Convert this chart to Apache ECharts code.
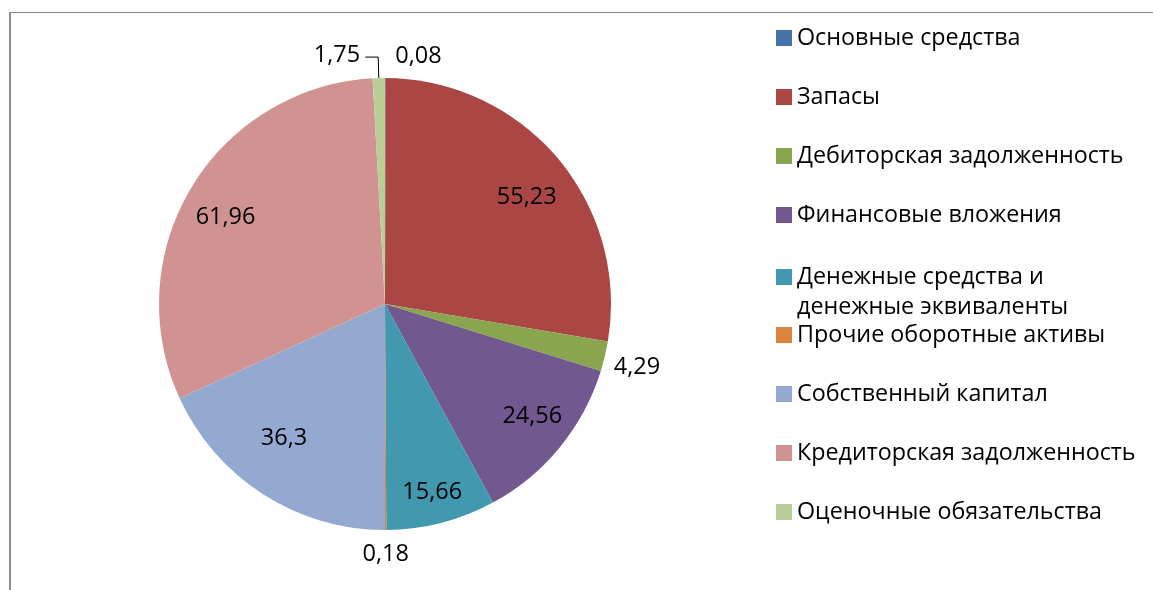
<!DOCTYPE html>
<html>
<head>
<meta charset="utf-8">
<script src="https://cdn.jsdelivr.net/npm/echarts@6/dist/echarts.min.js"></script>
<style>
  html, body { margin: 0; padding: 0; background: #fff; }
  #frame { position: absolute; left: 9px; top: 12px; width: 1144px; height: 578px;
           border-left: 2px solid #8f8f8f; border-top: 1px solid #8a8a8a; box-sizing: border-box; }
  #chart { position: absolute; left: 0; top: 0; width: 1153px; height: 590px; }
</style>
</head>
<body>
<div id="frame"></div>
<div id="chart"></div>
<script>
// ---- data ----
const categories = [
  'Основные средства',
  'Запасы',
  'Дебиторская задолженность',
  'Финансовые вложения',
  'Денежные средства и денежные эквиваленты',
  'Прочие оборотные активы',
  'Собственный капитал',
  'Кредиторская задолженность',
  'Оценочные обязательства'
];
const legendText = [
  'Основные средства',
  'Запасы',
  'Дебиторская задолженность',
  'Финансовые вложения',
  '\nДенежные средства и\nденежные эквиваленты',
  'Прочие оборотные активы',
  'Собственный капитал',
  'Кредиторская задолженность',
  'Оценочные обязательства'
];
const values = [0.08, 55.23, 4.29, 24.56, 15.66, 0.18, 36.3, 61.96, 1.75];

// ---- styles ----
const colors = ['#4572A7', '#AA4643', '#89A54E', '#71588F', '#4198AF', '#DB843D', '#93A9CF', '#D19392', '#B9CD96'];
const FONT = 'Open Sans';
const outsideThreshold = 5;   // small slices get their label outside
// per-slice outside label line settings [length, length2, showLine]
const outerLine = { 0: [22, 5, false], 2: [4, 0, false], 5: [24, 0, false], 8: [21, 13, true] };
// per-slice label nudges (style offsets)
const outerNudge = { 0: {}, 2: { dy: 10 }, 5: { dx: -5, align: 'center' }, 8: { dy: -2 } };
const innerNudge = { 1: { dx: 3, dy: 10 }, 3: { dx: 7, dy: -3 }, 4: { dx: 2, dy: 13 }, 6: { dx: -3, dy: -18 }, 7: { dx: -4, dy: 7 } };

const fmt = v => String(v).replace('.', ',');

const mainData = categories.map((name, i) => {
  const outside = values[i] < outsideThreshold;
  const ln = outerLine[i] || [10, 5, false];
  return {
    name, value: values[i],
    itemStyle: { color: colors[i] },
    label: { show: outside },
    labelLine: { show: outside && ln[2], length: ln[0], length2: ln[1] }
  };
});
const overlayData = categories.map((name, i) => ({
  name, value: values[i],
  label: { show: values[i] >= outsideThreshold }
}));

const chart = echarts.init(document.getElementById('chart'), null, { renderer: 'canvas' });
const legendBase = {
  orient: 'vertical', left: 776, padding: 0,
  itemWidth: 16, itemHeight: 16, itemGap: 29,
  icon: 'rect',
  selectedMode: false,
  formatter: name => legendText[categories.indexOf(name)],
  textStyle: { fontFamily: FONT, fontSize: 23.3, color: '#000', lineHeight: 30 }
};
chart.setOption({
  animation: false,
  backgroundColor: 'transparent',
  legend: [
    Object.assign({}, legendBase, { top: 23, data: categories.slice(0, 4) }),
    Object.assign({}, legendBase, { top: 232, data: [categories[4]] }),
    Object.assign({}, legendBase, { top: 320, data: categories.slice(5) })
  ],
  series: [
    {
      type: 'pie',
      center: [385, 304],
      radius: [0, 226],
      startAngle: 90,
      clockwise: true,
      avoidLabelOverlap: false,
      silent: true,
      emphasis: { disabled: true },
      itemStyle: { borderWidth: 0 },
      label: {
        position: 'outside', fontFamily: FONT, fontSize: 23.5, color: '#000',
        distanceToLabelLine: 5,
        formatter: p => fmt(p.value)
      },
      labelLine: { lineStyle: { color: '#000', width: 1 }, smooth: false },
      labelLayout: p => outerNudge[p.dataIndex] || {},
      data: mainData
    },
    {
      type: 'pie',
      center: [385, 304],
      radius: [131, 226],
      startAngle: 90,
      clockwise: true,
      avoidLabelOverlap: false,
      silent: true,
      legendHoverLink: false,
      emphasis: { disabled: true },
      itemStyle: { color: 'rgba(0,0,0,0)', borderWidth: 0 },
      label: {
        position: 'inside', fontFamily: FONT, fontSize: 23.5, color: '#000',
        formatter: p => fmt(p.value)
      },
      labelLine: { show: false },
      labelLayout: p => innerNudge[p.dataIndex] || {},
      data: overlayData
    }
  ]
});
</script>
</body>
</html>
